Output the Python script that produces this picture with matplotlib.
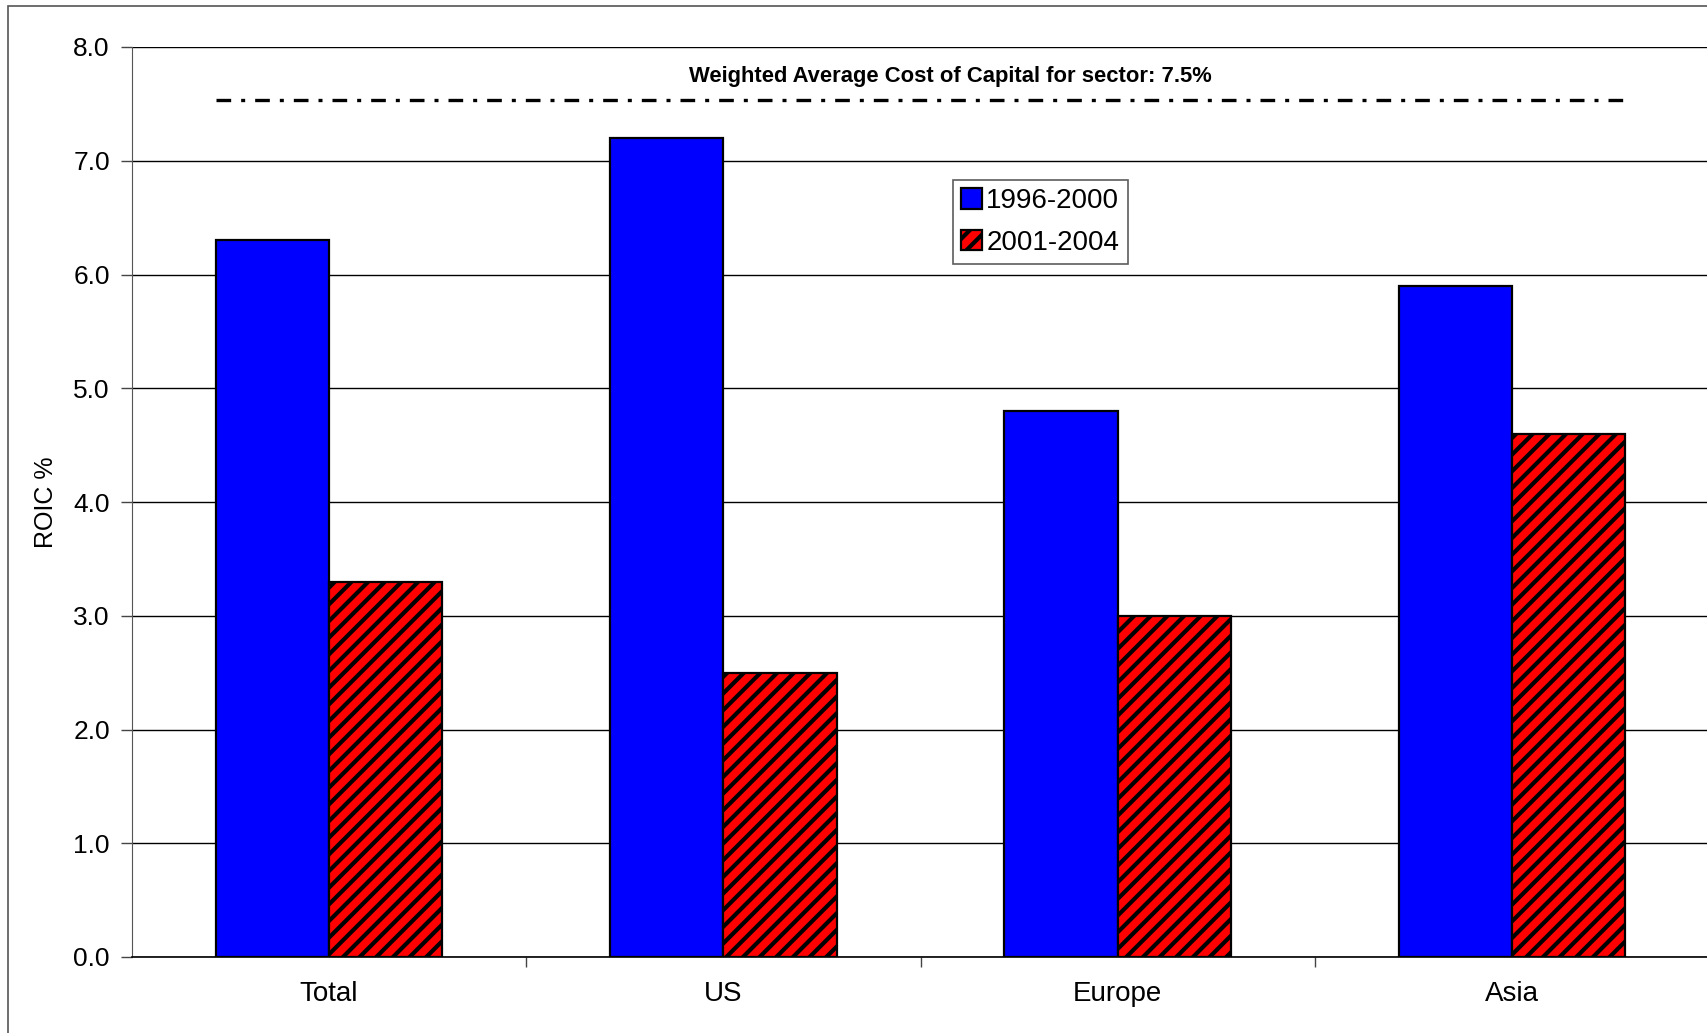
import matplotlib
matplotlib.use("Agg")
import matplotlib.pyplot as plt
from matplotlib.patches import Rectangle
import numpy as np

categories = ["Total", "US", "Europe", "Asia"]
roic_1996_2000 = [6.3, 7.2, 4.8, 5.9]
roic_2001_2004 = [3.3, 2.5, 3.0, 4.6]
wacc = [7.53, 7.53, 7.53, 7.53]
series_labels = ["1996-2000", "2001-2004"]
yticks = [0.0, 1.0, 2.0, 3.0, 4.0, 5.0, 6.0, 7.0, 8.0]
wacc_text = "Weighted Average Cost of Capital for sector: 7.5%"

plt.rcParams['font.family'] = ['Liberation Sans', 'DejaVu Sans']
plt.rcParams['hatch.linewidth'] = 3.0

W, H = 1707, 1033
fig = plt.figure(figsize=(W / 100, H / 100), dpi=100)
fig.patch.set_facecolor('white')

# outer chart frame
fig.add_artist(Rectangle((8 / W, -0.05), 1.2, (1033 - 6) / H + 0.05,
                         transform=fig.transFigure, fill=False,
                         edgecolor='#555555', linewidth=1.2))

ax = fig.add_axes([132 / W, 76 / H, 1577 / W, (957 - 47) / H])
x = np.arange(len(categories))
bw = 0.287

ax.bar(x - bw / 2, roic_1996_2000, width=bw, color='#0000FF',
       edgecolor='black', linewidth=1.6, label=series_labels[0], zorder=3)
ax.bar(x + bw / 2, roic_2001_2004, width=bw, color='#FF0000',
       edgecolor='black', linewidth=1.6, hatch='//', label=series_labels[1], zorder=3)

# WACC line spanning from first bar left edge to last bar right edge
xl = np.array([x[0] - bw, x[1], x[2], x[3] + bw])
ax.plot(xl, wacc, color='black', linewidth=2.4,
        linestyle=(0, (4.4, 3.0, 1.2, 3.0)), zorder=4)
ax.text(1.575, 7.74, wacc_text, ha='center', va='center',
        fontsize=15.8, fontweight='bold')

ax.set_xlim(-0.5, 3.5)
ax.set_ylim(0, 8)
ax.set_yticks(yticks)
ax.set_yticklabels([f"{v:.1f}" for v in yticks], fontsize=19)
ax.yaxis.grid(True, color='black', linewidth=1.0, zorder=0)
ax.set_axisbelow(True)

ax.set_xticks([0.5, 1.5, 2.5], minor=False)
ax.set_xticklabels([])
ax.set_xticks(x, minor=True)
ax.set_xticklabels(categories, minor=True, fontsize=20)
ax.tick_params(axis='x', which='minor', length=0, pad=17)
ax.tick_params(axis='x', which='major', length=7, width=1, color='#444444')
ax.tick_params(axis='y', length=8, width=1, color='#444444', pad=8)

ax.spines['top'].set_visible(False)
ax.spines['right'].set_visible(False)
ax.spines['left'].set_color('#555555')
ax.spines['bottom'].set_color('black')
ax.spines['bottom'].set_linewidth(1.2)

ax.set_ylabel("ROIC %", fontsize=18)
ax.yaxis.set_label_coords((58 - 132) / 1577, 0.5)

leg = ax.legend(loc='upper left', bbox_to_anchor=((953 - 132) / 1577, (1 - (180 - 47) / 910)),
                fontsize=20, frameon=True, fancybox=False, shadow=False,
                handlelength=0.75, handleheight=0.75, handletextpad=0.15,
                borderpad=0.3, labelspacing=0.55, borderaxespad=0)
leg.get_frame().set_edgecolor('#333333')
leg.get_frame().set_linewidth(1.2)

fig.savefig("out.png", dpi=100)
